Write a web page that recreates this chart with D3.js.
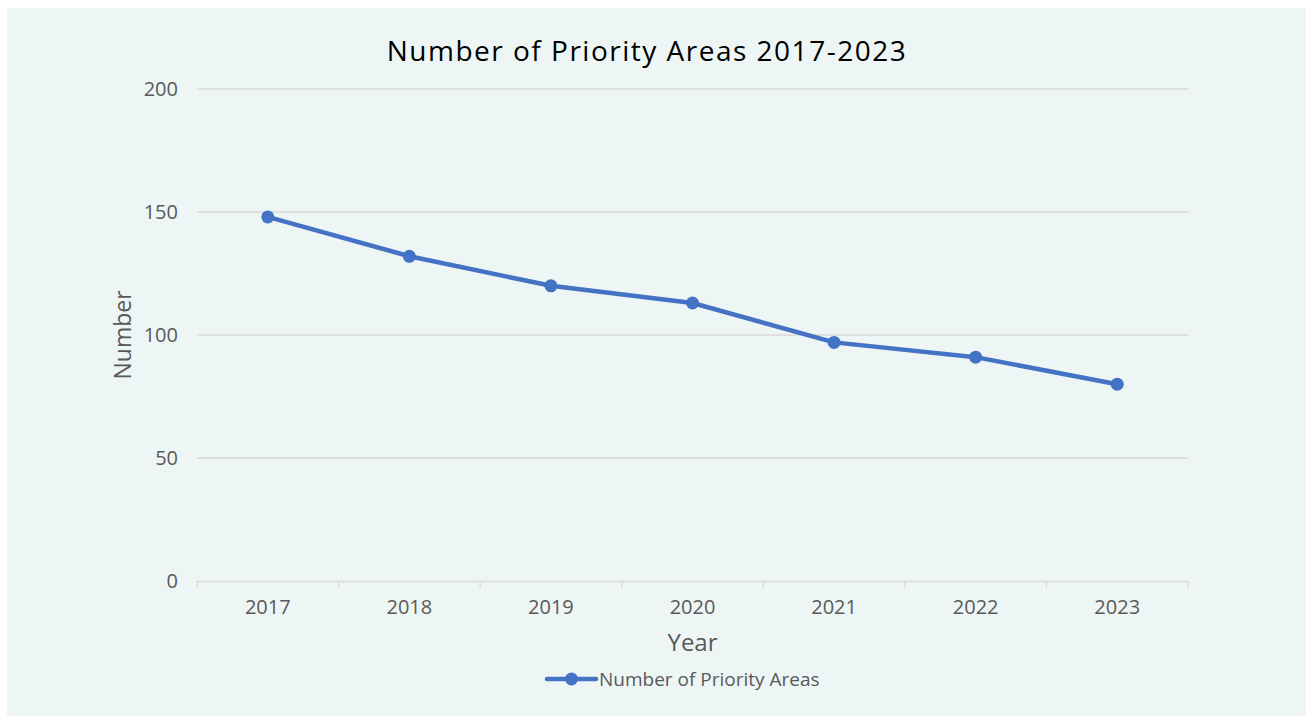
<!DOCTYPE html>
<html>
<head>
<meta charset="utf-8">
<script src="https://cdn.jsdelivr.net/npm/d3@7"></script>
<style>
  body { margin: 0; background: #fff; }
  text { font-family: "Open Sans", "Noto Sans", sans-serif; }
</style>
</head>
<body>
<script>
// Data
var years = ["2017", "2018", "2019", "2020", "2021", "2022", "2023"];
var priorityAreas = [148, 132, 120, 113, 97, 91, 80];
var yTicks = [0, 50, 100, 150, 200];
var seriesName = "Number of Priority Areas";

var w = 1306;
var h = 716;
var margin = { left: 197, right: 1188, top: 89, bottom: 581 };
var blue = "#4472c4";

var svg = d3.select("body")
  .append("svg")
  .attr("width", w)
  .attr("height", h);

// panel background
svg.append("rect")
  .attr("x", 7)
  .attr("y", 8)
  .attr("width", w - 7)
  .attr("height", h - 8)
  .attr("fill", "#eef6f5");

var x = d3.scaleBand()
  .domain(years)
  .range([margin.left, margin.right]);

var y = d3.scaleLinear()
  .domain([0, 200])
  .range([margin.bottom, margin.top]);

// gridlines
svg.append("g")
  .selectAll("line")
  .data(yTicks.slice(1))
  .enter()
  .append("line")
  .attr("x1", margin.left)
  .attr("x2", margin.right)
  .attr("y1", function(d) { return y(d); })
  .attr("y2", function(d) { return y(d); })
  .attr("stroke", "#d9d9d9")
  .attr("stroke-width", 1.3);

// y axis labels
var yAxis = svg.append("g")
  .attr("transform", "translate(" + margin.left + ",0)")
  .call(d3.axisLeft(y).tickValues(yTicks).tickSize(0).tickPadding(19));
yAxis.select(".domain").remove();
yAxis.selectAll("text")
  .attr("font-size", 20)
  .attr("fill", "#595959");

// x axis
var xAxis = svg.append("g")
  .attr("transform", "translate(0," + margin.bottom + ")")
  .call(d3.axisBottom(x).tickSize(0).tickPadding(19));
xAxis.select(".domain")
  .attr("stroke", "#d9d9d9")
  .attr("stroke-width", 1.3);
xAxis.selectAll("text")
  .attr("font-size", 20)
  .attr("fill", "#595959");

// tick marks at band boundaries
var bounds = years.map(function(d) { return x(d); }).concat([margin.right]);
svg.append("g")
  .selectAll("line")
  .data(bounds)
  .enter()
  .append("line")
  .attr("x1", function(d) { return d; })
  .attr("x2", function(d) { return d; })
  .attr("y1", margin.bottom)
  .attr("y2", margin.bottom + 7)
  .attr("stroke", "#d9d9d9")
  .attr("stroke-width", 1.3);

// line
var line = d3.line()
  .x(function(d, i) { return x(years[i]) + x.bandwidth() / 2; })
  .y(function(d) { return y(d); });

svg.append("path")
  .datum(priorityAreas)
  .attr("d", line)
  .attr("fill", "none")
  .attr("stroke", blue)
  .attr("stroke-width", 4.5)
  .attr("stroke-linejoin", "round");

svg.append("g")
  .selectAll("circle")
  .data(priorityAreas)
  .enter()
  .append("circle")
  .attr("cx", function(d, i) { return x(years[i]) + x.bandwidth() / 2; })
  .attr("cy", function(d) { return y(d); })
  .attr("r", 6.5)
  .attr("fill", blue);

// title
svg.append("text")
  .attr("x", 647)
  .attr("y", 61)
  .attr("text-anchor", "middle")
  .attr("font-size", 28)
  .attr("letter-spacing", 1.5)
  .attr("fill", "#000")
  .text("Number of Priority Areas 2017-2023");

// axis titles
svg.append("text")
  .attr("x", (margin.left + margin.right) / 2)
  .attr("y", 651)
  .attr("text-anchor", "middle")
  .attr("font-size", 24)
  .attr("fill", "#595959")
  .text("Year");

svg.append("text")
  .attr("transform", "translate(131," + (margin.top + margin.bottom) / 2 + ") rotate(-90)")
  .attr("text-anchor", "middle")
  .attr("font-size", 23)
  .attr("fill", "#595959")
  .text("Number");

// legend
var legend = svg.append("g").attr("transform", "translate(547,679)");
legend.append("line")
  .attr("x1", 0).attr("x2", 49)
  .attr("stroke", blue)
  .attr("stroke-width", 4.5)
  .attr("stroke-linecap", "round");
legend.append("circle")
  .attr("cx", 24.5)
  .attr("r", 6.5)
  .attr("fill", blue);
legend.append("text")
  .attr("x", 52)
  .attr("y", 7)
  .attr("font-size", 19)
  .attr("fill", "#595959")
  .text(seriesName);
</script>
</body>
</html>
